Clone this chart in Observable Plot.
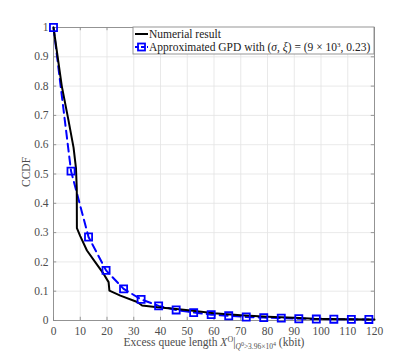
<!DOCTYPE html>
<html><head><meta charset="utf-8">
<script src="https://cdn.jsdelivr.net/npm/d3@7"></script>
<script src="https://cdn.jsdelivr.net/npm/@observablehq/plot@0.6"></script>
<style>body{margin:0;background:#fff} svg text{font-family:"Liberation Serif","DejaVu Serif",serif;}</style>
</head><body><div id="chart"></div>
<script>
// Numerical result (black solid)
const numX = [0, 3.1, 5.6, 7.5, 8.4, 8.7, 8.75, 10, 12.5, 15.6, 18.75, 20.6, 20.9, 25, 31.3, 33.1, 38.8, 45, 51.3, 60, 70, 80, 90, 97.5, 110, 120];
const numY = [1, 0.8, 0.683, 0.59, 0.52, 0.45, 0.315, 0.288, 0.239, 0.199, 0.159, 0.131, 0.102, 0.085, 0.063, 0.051, 0.045, 0.04, 0.034, 0.025, 0.018, 0.013, 0.009, 0.006, 0.004, 0.003];
// Approximated GPD (blue dashed, square markers)
const gpdX = [0, 6.55, 13.1, 19.65, 26.2, 32.75, 39.3, 45.85, 52.4, 58.95, 65.5, 72.05, 78.6, 85.15, 91.7, 98.25, 104.8, 111.35, 117.9];
const gpdY = [1, 0.51, 0.285, 0.171, 0.108, 0.072, 0.05, 0.036, 0.027, 0.02, 0.016, 0.012, 0.01, 0.008, 0.006, 0.005, 0.0045, 0.004, 0.0035];
const xTicks = [0, 10, 20, 30, 40, 50, 60, 70, 80, 90, 100, 110, 120];
const yTicks = [0, 0.1, 0.2, 0.3, 0.4, 0.5, 0.6, 0.7, 0.8, 0.9, 1];
const seriesNames = ["Numerial result", "Approximated GPD with "];

const numData = numX.map((x, i) => ({x, y: numY[i]}));
const gpdData = gpdX.map((x, i) => ({x, y: gpdY[i]}));

const font = "'Liberation Serif', 'DejaVu Serif', serif";
const axisColor = "#4d4d4d";

const plot = Plot.plot({
  width: 415, height: 360,
  marginLeft: 53, marginRight: 41, marginTop: 27, marginBottom: 40,
  style: {fontFamily: font, fontSize: "11px", color: axisColor, background: "#fff"},
  x: {domain: [0, 120], label: null},
  y: {domain: [0, 1], label: null},
  marks: [
    Plot.gridX(xTicks, {stroke: "#e3e3e3", strokeOpacity: 1, strokeWidth: 0.8}),
    Plot.gridY(yTicks, {stroke: "#e3e3e3", strokeOpacity: 1, strokeWidth: 0.8}),
    Plot.ruleX(xTicks, {y1: 0, y2: 0.011, stroke: "#808080", strokeWidth: 0.8}),
    Plot.ruleX(xTicks, {y1: 0.989, y2: 1, stroke: "#808080", strokeWidth: 0.8}),
    Plot.ruleY(yTicks, {x1: 0, x2: 1.2, stroke: "#808080", strokeWidth: 0.8}),
    Plot.ruleY(yTicks, {x1: 118.8, x2: 120, stroke: "#808080", strokeWidth: 0.8}),
    Plot.frame({stroke: "#8a8a8a", strokeWidth: 0.9}),
    Plot.axisX(xTicks, {tickSize: 0, tickPadding: 6, fontSize: 11.5, fontFamily: font, label: null, tickFormat: d => String(d)}),
    Plot.axisY(yTicks, {tickSize: 0, tickPadding: 5, fontSize: 11.5, fontFamily: font, label: null, tickFormat: d => String(+d.toFixed(1))}),
    Plot.line(gpdData, {x: "x", y: "y", stroke: "#0000ff", strokeWidth: 2, strokeDasharray: "8,5"}),
    Plot.line(numData, {x: "x", y: "y", stroke: "#000", strokeWidth: 2}),
    Plot.dot(gpdData, {x: "x", y: "y", symbol: "square", r: 4, stroke: "#0000ff", strokeWidth: 1.8, fill: "none"})
  ]
});
document.getElementById("chart").appendChild(plot);

const svg = d3.select(plot);
// Y label
svg.append("text")
  .attr("transform", "translate(30,172) rotate(-90)")
  .attr("text-anchor", "middle")
  .attr("font-family", font).attr("font-size", 11.5).attr("fill", axisColor)
  .text("CCDF");
// X label with math
const xl = svg.append("text")
  .attr("x", 214).attr("y", 346)
  .attr("text-anchor", "middle")
  .attr("font-family", font).attr("font-size", 11.5).attr("fill", axisColor);
xl.append("tspan").text("Excess queue length ");
xl.append("tspan").attr("font-style", "italic").text("X");
xl.append("tspan").attr("dy", -4).attr("font-size", 8).text("O");
xl.append("tspan").attr("dy", 4).text("|");
xl.append("tspan").attr("dy", 3).attr("font-size", 7.5).attr("font-style", "italic").text("Q");
xl.append("tspan").attr("dy", -3).attr("font-size", 6).text("0");
xl.append("tspan").attr("dy", 3).attr("font-size", 7.5).text(">3.96×10");
xl.append("tspan").attr("dy", -3).attr("font-size", 6).text("4");
xl.append("tspan").attr("dy", 0).attr("font-size", 11.5).text(" (kbit)");

// Legend
const lg = svg.append("g").attr("text-anchor", "start");
lg.append("rect").attr("x", 133).attr("y", 27).attr("width", 241).attr("height", 27)
  .attr("fill", "#fff").attr("stroke", "#8a8a8a").attr("stroke-width", 0.9);
lg.append("line").attr("x1", 135).attr("x2", 148).attr("y1", 34).attr("y2", 34)
  .attr("stroke", "#000").attr("stroke-width", 2);
lg.append("text").attr("x", 149).attr("y", 37.5).attr("text-anchor", "start").attr("font-family", font).attr("font-size", 11.5).attr("fill", "#222")
  .text(seriesNames[0]);
lg.append("line").attr("x1", 135).attr("x2", 148).attr("y1", 47).attr("y2", 47)
  .attr("stroke", "#0000ff").attr("stroke-width", 2).attr("stroke-dasharray", "4,2");
lg.append("rect").attr("x", 138).attr("y", 43.5).attr("width", 7).attr("height", 7)
  .attr("fill", "none").attr("stroke", "#0000ff").attr("stroke-width", 1.8);
const t2 = lg.append("text").attr("x", 149).attr("y", 50.5).attr("text-anchor", "start").attr("font-family", font).attr("font-size", 11.5).attr("fill", "#222");
t2.append("tspan").text(seriesNames[1] + "(");
t2.append("tspan").attr("font-style", "italic").text("σ");
t2.append("tspan").text(", ");
t2.append("tspan").attr("font-style", "italic").text("ξ");
t2.append("tspan").text(") = (9 × 10");
t2.append("tspan").attr("dy", -4).attr("font-size", 7).text("3");
t2.append("tspan").attr("dy", 4).text(", 0.23)");
</script>
</body></html>
